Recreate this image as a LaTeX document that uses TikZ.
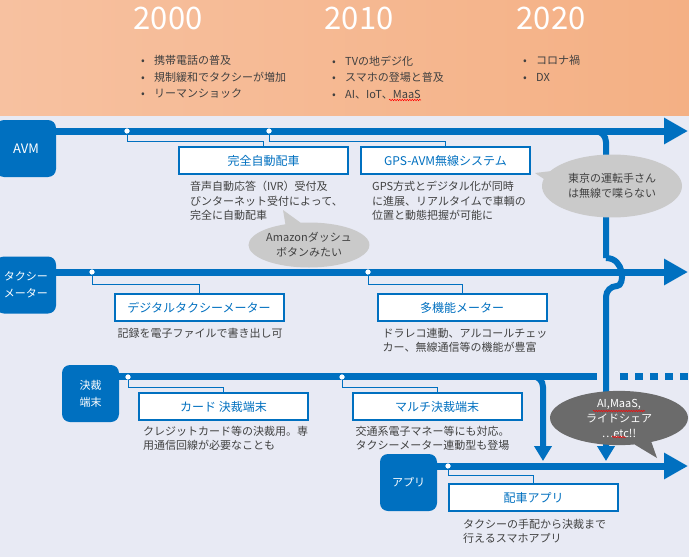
\documentclass[tikz,border=0pt]{standalone}
\usepackage{fontspec}
\setmainfont{Noto Sans CJK JP}
\definecolor{tblue}{HTML}{0070C0}
\definecolor{peach}{HTML}{F4B084}
\definecolor{peachL}{HTML}{F7C1A0}
\definecolor{lav}{HTML}{E8EAF4}
\definecolor{ink}{HTML}{404040}
\definecolor{cloud}{HTML}{CACACA}
\definecolor{slate}{HTML}{6B6B6B}
\usetikzlibrary{calc, positioning, arrows.meta, shapes.callouts, decorations.pathmorphing}

\begin{document}
\begin{tikzpicture}[x=1pt, y=-1pt,
  mainline/.style={tblue, line width=7pt, -{Triangle[length=24pt, width=25pt]}},
  dropline/.style={tblue, line width=6pt, rounded corners=11pt, -{Triangle[length=15pt, width=17pt]}},
  cat/.style={fill=tblue, rounded corners=8pt, minimum width=57pt, minimum height=57pt, inner sep=0pt,
    text=white, font=\fontsize{11}{17}\selectfont, align=center},
  item/.style={draw=tblue, line width=2pt, fill=white, minimum width=169pt, minimum height=27pt,
    inner sep=0pt, text=tblue, font=\fontsize{12}{14}\selectfont},
  desc/.style={text=ink, font=\fontsize{11}{14.5}\selectfont, align=left, inner sep=0pt},
  link/.style={tblue, line width=0.9pt},
  dot/.style={circle, fill=white, inner sep=0pt, minimum size=5pt},
  year/.style={text=white, font=\fontsize{31}{31}\selectfont},
  bullets/.style={text=ink, font=\fontsize{11}{16.5}\selectfont, align=left, anchor=north west, inner sep=0pt},
  bubble/.style={ellipse callout, fill=cloud, text=ink, inner sep=0pt, font=\fontsize{11}{15}\selectfont},
  wavy/.style={red, line width=0.5pt, decorate, decoration={snake, amplitude=0.7pt, segment length=2.5pt}}]

\useasboundingbox (0,0) rectangle (689,557);
\fill[lav] (0,0) rectangle (689,557);
\shade[left color=peachL, right color=peach] (0,0) rectangle (689,115);

% decades
\foreach \x/\yr in {168/2000, 359/2010, 551/2020}
  \node[year] (y\yr) at (\x,18) {\yr};
\node[bullets] (b2000) at (141,55.5) {\makebox[13pt][l]{•}携帯電話の普及\\
  \makebox[13pt][l]{•}規制緩和でタクシーが増加\\ \makebox[13pt][l]{•}リーマンショック};
\node[bullets] (b2010) at (332,55.5) {\makebox[13pt][l]{•}TVの地デジ化\\
  \makebox[13pt][l]{•}スマホの登場と普及\\ \makebox[13pt][l]{•}AI、IoT、MaaS};
\node[bullets] (b2020) at (523,55.5) {\makebox[13pt][l]{•}コロナ禍\\ \makebox[13pt][l]{•}DX};

% timelines
\coordinate (avmS) at (40,131);   \coordinate (avmE) at (688,131);
\coordinate (meterS) at (40,272); \coordinate (meterE) at (688,272);
\coordinate (kesS) at (100,376);  \coordinate (kesE) at (597,376);
\coordinate (kesD) at (620,376);  \coordinate (kesF) at (689,376);
\coordinate (appS) at (420,466);  \coordinate (appE) at (688,466);
\draw[mainline] (avmS) -- (avmE);
\draw[mainline] (meterS) -- (meterE);
\draw[mainline] (appS) -- (appE);
\draw[tblue, line width=7pt] (kesS) -- (kesE);
\draw[tblue, line width=7pt, dash pattern=on 8pt off 7pt] (kesD) -- (kesF);

% branches down to the app line
\coordinate (avmB) at (580,131); \coordinate (hopT) at (606,258);
\coordinate (hopB) at (606,286); \coordinate (appA) at (606,461);
\coordinate (kesB) at (515,376); \coordinate (appB) at (543,461);
\draw[tblue, line width=6pt, rounded corners=11pt] (avmB) -| (hopT);
\draw[dropline] (hopT) .. controls +(19,0) and +(19,0) .. (hopB) -- (appA);
\draw[dropline] (kesB) -| (appB);

% categories
\node[cat, minimum width=60pt] (avm) at (26,148.5) {\fontsize{13}{13}\selectfont AVM};
\node[cat, minimum width=60pt] (meter) at (26,285) {タクシー\\メーター};
\node[cat] (kessai) at (90.5,393.5) {決裁\\端末};
\node[cat] (app) at (408.5,482.5) {アプリ};

% items
\node[item] (kanzen) at (263.5,160.5) {完全自動配車};
\node[item] (gps) at (445.5,160.5) {GPS-AVM無線システム};
\node[item] (digital) at (199,307.5) {デジタルタクシーメーター};
\node[item] (tashino) at (462,307.5) {多機能メーター};
\node[item] (card) at (223.5,406.5) {カード\ 決裁端末};
\node[item] (multi) at (437,406.5) {マルチ決裁端末};
\node[item] (haisha) at (533.5,497.5) {配車アプリ};

\node[dot] (d1) at (127,131) {};
\node[dot] (d2) at (269,131) {};
\node[dot] (d3) at (92,272) {};
\node[dot] (d4) at (368,272) {};
\node[dot] (d5) at (128,377) {};
\node[dot] (d6) at (342,377) {};
\node[dot] (d7) at (448,466) {};
\foreach \d/\b/\s in {d1/kanzen/10, d2/gps/10, d3/digital/12, d4/tashino/12,
    d5/card/10, d6/multi/10, d7/haisha/9}
  \draw[link] (\d.center) -- ++(0,\s) -| (\b.north);
\foreach \d in {d1,d2,d3,d4,d5,d6,d7}
  \fill[white] (\d) circle (2.5pt);

% descriptions
\node[desc, below right=6pt and 12pt of kanzen.south west] (kanzenT)
  {音声自動応答（IVR）受付及\\びンターネット受付によって、\\完全に自動配車};
\node[desc, below right=6pt and 12pt of gps.south west] (gpsT)
  {GPS方式とデジタル化が同時\\に進展、リアルタイムで車輌の\\位置と動態把握が可能に};
\node[desc, below right=6pt and 4pt of digital.south west] (digitalT)
  {記録を電子ファイルで書き出し可};
\node[desc, below right=6pt and 6pt of tashino.south west] (tashinoT)
  {ドラレコ連動、アルコールチェッ\\カー、無線通信等の機能が豊富};
\node[desc, below right=5pt and 5pt of card.south west] (cardT)
  {クレジットカード等の決裁用。専\\用通信回線が必要なことも};
\node[desc, below right=5pt and 4pt of multi.south west] (multiT)
  {交通系電子マネー等にも対応。\\タクシーメーター連動型も登場};
\node[desc, below right=7pt and 15pt of haisha.south west] (haishaT)
  {タクシーの手配から決裁まで\\行えるスマホアプリ};

% bubbles
\node[bubble, minimum width=108pt, minimum height=45pt, align=center,
  callout absolute pointer={(283,210)}] (amazon) at (309,245) {Amazonダッシュ\\ボタンみたい};
\node[bubble, minimum width=140pt, minimum height=63pt, align=left,
  callout absolute pointer={(535,173)}] (tokyo) at (612,186) {東京の運転手さん\\は無線で喋らない};
\node[bubble, fill=slate, text=white, minimum width=138pt, minimum height=54pt, align=center,
  callout absolute pointer={(657,458)}] (ai) at (619,418) {AI,MaaS,\\ライドシェア\\…etc!!};

\draw[wavy] (389,100) -- (421,100);
\draw[wavy] (593,411) -- (645,411);
\draw[wavy] (612,437) -- (626,437);
\end{tikzpicture}
\end{document}
